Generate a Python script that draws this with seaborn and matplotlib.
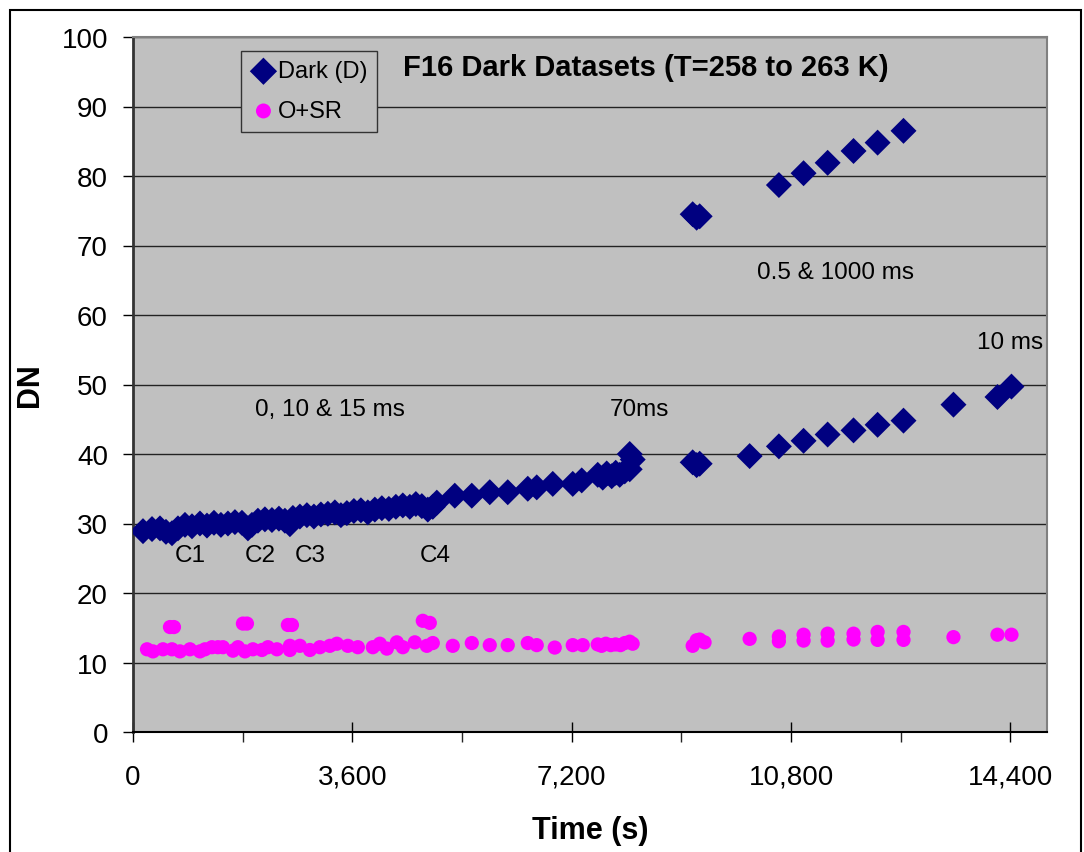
import numpy as np
import pandas as pd
import matplotlib
matplotlib.use("Agg")
import matplotlib.pyplot as plt
from matplotlib.ticker import MultipleLocator, StrMethodFormatter
from matplotlib.patches import Rectangle
import seaborn as sns

# Dark (D) series: time (s) and DN
dark_time = [164, 312, 443, 541, 640, 738, 853, 968, 1099, 1214, 1329, 1443, 1558, 1673,
             1788, 1886, 1952, 2050, 2165, 2280, 2395, 2493, 2575, 2624, 2739, 2854, 2969,
             3084, 3198, 3313, 3412, 3510, 3625, 3740, 3854, 3969, 4084, 4199, 4314, 4428,
             4543, 4642, 4740, 4838, 4920, 4986, 5281, 5560, 5855, 6150, 6479, 6626, 6889,
             7217, 7364, 7627, 7709, 7774, 7856, 7922, 7988, 8070, 8152, 8201, 8152,
             9185, 9250, 9300, 10120, 10600, 11005, 11400, 11825, 12220, 12645, 13465,
             14187, 14417,
             9185, 9250, 9300, 10600, 11005, 11400, 11825, 12220, 12645]
dark_dn = [28.9, 29.2, 29.3, 28.8, 28.6, 29.3, 29.8, 29.6, 30.0, 29.7, 30.1, 29.8, 30.0, 30.2,
           30.1, 29.3, 29.8, 30.4, 30.6, 30.5, 30.7, 30.4, 29.9, 30.8, 31.0, 31.2, 31.0,
           31.3, 31.4, 31.6, 31.2, 31.5, 31.8, 31.9, 31.6, 32.0, 32.2, 32.1, 32.4, 32.6,
           32.4, 32.8, 32.5, 32.0, 32.4, 33.0, 34.0, 34.0, 34.5, 34.5, 35.0, 35.2, 35.7,
           35.7, 36.2, 37.0, 36.6, 37.2, 36.8, 37.3, 37.0, 37.5, 37.8, 39.2, 40.0,
           38.8, 38.4, 38.6, 39.7, 41.1, 41.9, 42.8, 43.4, 44.2, 44.8, 47.1,
           48.2, 49.7,
           74.5, 74.0, 74.2, 78.7, 80.4, 81.9, 83.6, 84.8, 86.5]

# O+SR series: time (s) and DN
osr_time = [230, 328, 492, 607, 672, 640, 771, 935, 1099, 1181, 1296, 1394, 1476, 1640,
            1722, 1804, 1870, 1837, 1968, 2116, 2214, 2362, 2542, 2608, 2575, 2575, 2739,
            2903, 3067, 3231, 3346, 3526, 3690, 3936, 4051, 4166, 4330, 4428, 4625, 4756,
            4871, 4822, 4920, 5248, 5560, 5855, 6150, 6479, 6626, 6921, 7217, 7381,
            7627, 7690, 7760, 7840, 7920, 8000, 8070, 8150, 8200,
            9185, 9250, 9300, 9380, 10120, 10600, 10600, 11005, 11005, 11400, 11400,
            11825, 11825, 12220, 12220, 12645, 12645, 13465, 14187, 14417]
osr_dn = [11.9, 11.6, 11.9, 15.1, 15.1, 11.9, 11.6, 11.9, 11.6, 11.9, 12.2, 12.2, 12.2, 11.7,
          12.2, 15.6, 15.6, 11.6, 11.9, 11.8, 12.2, 11.9, 15.4, 15.4, 12.4, 11.8, 12.4,
          11.8, 12.2, 12.4, 12.7, 12.4, 12.2, 12.2, 12.7, 12.0, 12.9, 12.2, 12.9, 16.0,
          15.7, 12.4, 12.8, 12.4, 12.8, 12.5, 12.5, 12.8, 12.5, 12.15, 12.5, 12.5,
          12.6, 12.4, 12.7, 12.5, 12.6, 12.5, 12.8, 13.0, 12.7,
          12.4, 13.2, 13.3, 12.9, 13.4, 13.75, 13.05, 14.0, 13.15, 14.15, 13.15,
          14.15, 13.3, 14.4, 13.25, 14.4, 13.25, 13.65, 14.0, 14.0]

# annotations: (text, time, DN)
notes = [("0, 10 & 15 ms", 2000, 46.5), ("70ms", 7823, 46.5),
         ("0.5 & 1000 ms", 10235, 66.2), ("10 ms", 13843, 56.1),
         ("C1", 689, 25.5), ("C2", 1837, 25.5), ("C3", 2657, 25.5), ("C4", 4707, 25.5)]

dark = pd.DataFrame({"Time": dark_time, "DN": dark_dn})
osr = pd.DataFrame({"Time": osr_time, "DN": osr_dn})

sns.set_style("white")
plt.rcParams["font.family"] = ["Liberation Sans", "DejaVu Sans"]
plt.rcParams["text.color"] = "black"
plt.rcParams["axes.labelcolor"] = "black"

fig = plt.figure(figsize=(10.84, 8.53), dpi=100)
ax = fig.add_axes([133 / 1084, 1 - 733 / 853, (1047 - 133) / 1084, (733 - 38) / 853])
ax.set_facecolor("#C0C0C0")

for y in range(10, 101, 10):
    ax.axhline(y, color="#222222", lw=1.0, zorder=1)

sns.scatterplot(data=dark, x="Time", y="DN", marker="D", s=175, color="#000080",
                edgecolor="none", ax=ax, zorder=3, label="Dark (D)")
sns.scatterplot(data=osr, x="Time", y="DN", marker="o", s=105, color="#FF00FF",
                edgecolor="none", ax=ax, zorder=3, label="O+SR")

ax.set_xlim(0, 15000)
ax.set_ylim(0, 100)
ax.xaxis.set_major_locator(MultipleLocator(3600))
ax.xaxis.set_minor_locator(MultipleLocator(1800))
ax.yaxis.set_major_locator(MultipleLocator(10))
ax.xaxis.set_major_formatter(StrMethodFormatter("{x:,.0f}"))

ax.tick_params(axis="x", which="major", direction="inout", length=14, width=1,
               labelsize=20, pad=16, colors="black")
ax.tick_params(axis="x", which="minor", direction="out", length=7, width=1)
ax.tick_params(axis="y", which="major", direction="out", length=7, width=1,
               labelsize=20, pad=11, colors="black")
ax.tick_params(bottom=True, left=True, which="both")

ax.set_xlabel("Time (s)", fontsize=22, fontweight="bold", labelpad=18)
ax.set_ylabel("DN", fontsize=22, fontweight="bold", labelpad=12)

for side in ["top", "right"]:
    ax.spines[side].set_color("#808080")
    ax.spines[side].set_linewidth(1.5)
ax.spines["left"].set_color("#333333")
ax.spines["left"].set_linewidth(2)
ax.spines["bottom"].set_color("black")
ax.spines["bottom"].set_linewidth(1.5)

ax.text(4428, 95.7, "F16 Dark Datasets (T=258 to 263 K)", fontsize=21,
        fontweight="bold", va="center", ha="left")
for txt, tx, ty in notes:
    ax.text(tx, ty, txt, fontsize=17.5, va="center", ha="left", zorder=4)

leg = ax.legend(loc="upper left", bbox_to_anchor=((241 - 133) / 914, (733 - 52) / 695),
                fontsize=17, frameon=True, fancybox=False, handletextpad=0.05,
                handlelength=1.1, borderpad=0.4, labelspacing=0.75, borderaxespad=0,
                markerscale=1.05)
leg.get_frame().set_facecolor("#C0C0C0")
leg.get_frame().set_edgecolor("#333333")
leg.get_frame().set_alpha(1)
leg.set_zorder(5)

# outer chart frame
fig.patches.append(Rectangle((10 / 1084, -0.05), 1071 / 1084, 1.05 - 11 / 853,
                             transform=fig.transFigure, fill=False,
                             edgecolor="black", lw=1.5))

fig.savefig("out.png", dpi=100, facecolor="white")
